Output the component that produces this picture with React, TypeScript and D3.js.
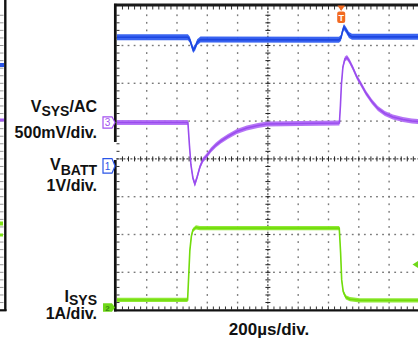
import React from 'react';
import * as d3 from 'd3';

// CH1 (VBATT, 1V/div) – time in µs, value in V
const blueT = [0, 472, 485, 498, 507, 520, 533, 555, 1469, 1482, 1494, 1502, 1515, 1535, 1555, 2000];
const blueV = [3.42, 3.42, 3.35, 3.19, 3.08, 3.15, 3.29, 3.36, 3.35, 3.40, 3.60, 3.69, 3.62, 3.48, 3.43, 3.43];

// CH3 (VSYS AC, 500mV/div) – time in µs, value in mV
const purpleT = [0, 472, 482, 492, 505, 518, 533, 551, 571, 595, 624, 657, 690, 736, 795, 861, 934, 993, 1211, 1472, 1479, 1485, 1495, 1508, 1522, 1538, 1561, 1587, 1614, 1647, 1686, 1726, 1772, 1825, 1891, 1950, 2000];
const purpleMV = [0, 0, -298, -562, -734, -814, -721, -589, -496, -443, -364, -298, -245, -185, -119, -73, -40, -20, -13, -7, 231, 496, 734, 840, 860, 813, 721, 602, 509, 390, 278, 185, 119, 73, 40, 20, 11];

// CH2 (ISYS, 1A/div) – time in µs, value in A
const greenT = [0, 470, 479, 485, 495, 505, 525, 551, 1471, 1480, 1487, 1497, 1515, 1541, 1607, 2000];
const greenA = [0.2, 0.2, 0.99, 1.52, 1.89, 2.05, 2.12, 2.1, 2.1, 1.44, 0.73, 0.42, 0.27, 0.22, 0.19, 0.19];

const timeLabel = '200µs/div.';
const vsysMain = ['V', 'SYS', '/AC'];
const vsysScale = '500mV/div.';
const vbattMain = ['V', 'BATT'];
const vbattScale = '1V/div.';
const isysMain = ['I', 'SYS'];
const isysScale = '1A/div.';

const FONT = '"Liberation Sans", Arial, Helvetica, sans-serif';

export default function App() {
  const W = 418, H = 341;
  const x0 = 116.4, divW = 30.3, yTop = 7.7, divH = 37.8;
  const x = d3.scaleLinear().domain([0, 2000]).range([x0, x0 + 10 * divW]);
  const y1 = d3.scaleLinear().domain([0, 1]).range([166.5, 166.5 - divH]);
  const y3 = d3.scaleLinear().domain([0, 500]).range([122.5, 122.5 - divH]);
  const y2 = d3.scaleLinear().domain([0, 1]).range([307.5, 307.5 - divH]);

  const blue = blueT.map((t, i) => [t, blueV[i]] as [number, number]);
  const purple = purpleT.map((t, i) => [t, purpleMV[i]] as [number, number]);
  const green = greenT.map((t, i) => [t, greenA[i]] as [number, number]);

  const band = (ys: d3.ScaleLinear<number, number>, h: number) =>
    d3.area<[number, number]>().x(d => x(d[0])).y0(d => ys(d[1]) - h).y1(d => ys(d[1]) + h);
  const line = (ys: d3.ScaleLinear<number, number>) =>
    d3.line<[number, number]>().x(d => x(d[0])).y(d => ys(d[1]));

  const dots: JSX.Element[] = [];
  for (let i = 1; i < 10; i++) {
    if (i === 5) continue;
    const gx = x0 + i * divW;
    for (let j = 1; j < 40; j++) {
      const gy = yTop + (j * divH) / 5;
      dots.push(<rect key={`v${i}-${j}`} x={gx - 0.7} y={gy - 0.9} width={1.4} height={1.8} fill="#7a7a7a" />);
    }
  }
  for (let k = 1; k < 8; k++) {
    if (k === 4) continue;
    const gy = yTop + k * divH;
    for (let j = 1; j < 50; j++) {
      const gx = x0 + (j * divW) / 5;
      dots.push(<rect key={`h${k}-${j}`} x={gx - 0.9} y={gy - 0.7} width={1.8} height={1.4} fill="#7a7a7a" />);
    }
  }
  const cx = x0 + 5 * divW, cy = yTop + 4 * divH;
  const ticks: JSX.Element[] = [];
  const panelTicks: JSX.Element[] = [];
  for (let j = 1; j < 50; j++) {
    const gx = x0 + (j * divW) / 5;
    ticks.push(<line key={`ch${j}`} x1={gx} x2={gx} y1={cy - 2.5} y2={cy + 2.5} stroke="#222" strokeWidth={1} />);
    ticks.push(<line key={`tt${j}`} x1={gx} x2={gx} y1={6} y2={9.5} stroke="#333" strokeWidth={1} />);
    ticks.push(<line key={`bt${j}`} x1={gx} x2={gx} y1={306.5} y2={309.5} stroke="#333" strokeWidth={1} />);
  }
  for (let j = 1; j < 40; j++) {
    const gy = yTop + (j * divH) / 5;
    ticks.push(<line key={`cv${j}`} x1={cx - 2.5} x2={cx + 2.5} y1={gy} y2={gy} stroke="#222" strokeWidth={1} />);
    ticks.push(<line key={`lt${j}`} x1={116.5} x2={119.5} y1={gy} y2={gy} stroke="#333" strokeWidth={1} />);
    panelTicks.push(<line key={`pl${j}`} x1={0} x2={3.5} y1={gy} y2={gy} stroke="#999" strokeWidth={1} />);
  }

  const labelStyle = { fontFamily: FONT, fontWeight: 700 as const, fill: '#111' };

  return (
    <svg width={W} height={H} style={{ position: 'absolute', left: 0, top: 0, background: '#fff' }}>
      <defs>
        <clipPath id="plot"><rect x={117} y={6} width={302} height={303} /></clipPath>
      </defs>
      <rect x={0} y={0} width={W} height={H} fill="#fff" />

      {/* left partial panel */}
      {panelTicks}
      <line x1={5.3} x2={5.3} y1={0} y2={311} stroke="#111" strokeWidth={2.4} />
      <line x1={0} x2={6.5} y1={310.3} y2={310.3} stroke="#111" strokeWidth={2.2} />
      <line x1={0} x2={4} y1={65} y2={65} stroke="#2a55e8" strokeWidth={4} />
      <line x1={0} x2={4} y1={120} y2={120} stroke="#a35cf0" strokeWidth={3} />
      <line x1={0} x2={3} y1={223.5} y2={223.5} stroke="#7de314" strokeWidth={4} />
      <line x1={0} x2={3} y1={235} y2={235} stroke="#7de314" strokeWidth={3} />

      {/* grid */}
      {dots}
      <line x1={x0} x2={W} y1={cy} y2={cy} stroke="#222" strokeWidth={1} strokeDasharray="2 1.5" />
      <line x1={cx} x2={cx} y1={yTop} y2={310} stroke="#222" strokeWidth={1} strokeDasharray="2 1.5" />
      {ticks}

      {/* frame */}
      <line x1={114} x2={W} y1={5} y2={5} stroke="#1a1a1a" strokeWidth={2.8} />
      <line x1={114} x2={W} y1={310.3} y2={310.3} stroke="#111" strokeWidth={2.2} />
      <line x1={115.3} x2={115.3} y1={3.8} y2={142} stroke="#111" strokeWidth={2.7} />
      <line x1={115.3} x2={115.3} y1={160} y2={311.4} stroke="#111" strokeWidth={2.7} />

      {/* traces */}
      <g clipPath="url(#plot)">
        <path d={band(y1, 3)(blue) || ''} fill="#2f5cf0" opacity={0.95} />
        <path d={line(y1)(blue) || ''} fill="none" stroke="#1d46e0" strokeWidth={1.6} />
        <path d={band(y3, 2.5)(purple) || ''} fill="#b16ef5" opacity={0.95} />
        <path d={line(y3)(purple) || ''} fill="none" stroke="#9a4cee" strokeWidth={1.6} />
        <path d={band(y2, 2.1)(green) || ''} fill="#8ae82a" opacity={0.95} />
        <path d={line(y2)(green) || ''} fill="none" stroke="#72dc0c" strokeWidth={1.6} />
      </g>

      {/* channel markers */}
      <path d="M103,116.8 H112 L115,122.5 L112,128.2 H103 Z" fill="#fff" stroke="#a350f0" strokeWidth={1.2} />
      <text x={107.5} y={126.4} textAnchor="middle" fontSize={10} fontFamily={FONT} fill="#a350f0">3</text>
      <path d="M103,158.6 H112 L115,166 L112,173.2 H103 Z" fill="#fff" stroke="#2a55e8" strokeWidth={1.2} />
      <text x={107.5} y={169.8} textAnchor="middle" fontSize={10} fontFamily={FONT} fill="#2a55e8">1</text>
      <path d="M103,303.3 H112 L115,307.5 L112,311.7 H103 Z" fill="#6fd81a" />
      <text x={107.5} y={311} textAnchor="middle" fontSize={8} fontFamily={FONT} fontWeight={700} fill="#3a8a10">2</text>

      {/* trigger markers */}
      <path d="M337.5,5.5 H345 L341.2,11 Z" fill="#f26a21" />
      <rect x={337.2} y={11.5} width={8} height={11.5} rx={2} fill="#f26a21" />
      <text x={341.2} y={21} textAnchor="middle" fontSize={9} fontFamily={FONT} fontWeight={700} fill="#fff">T</text>
      <path d="M412.5,264.5 L418,261 L418,268 Z" fill="#6fd81a" />

      {/* labels */}
      <text x={97} y={112} textAnchor="end" fontSize={16} {...labelStyle}>
        {vsysMain[0]}<tspan fontSize={14} dy={3.5}>{vsysMain[1]}</tspan><tspan dy={-3.5}>{vsysMain[2]}</tspan>
      </text>
      <text x={97} y={138} textAnchor="end" fontSize={16} {...labelStyle}>{vsysScale}</text>
      <text x={97} y={170} textAnchor="end" fontSize={16} {...labelStyle}>
        {vbattMain[0]}<tspan fontSize={14} dy={4.5}>{vbattMain[1]}</tspan>
      </text>
      <text x={97} y={190.5} textAnchor="end" fontSize={16} {...labelStyle}>{vbattScale}</text>
      <text x={97} y={301.5} textAnchor="end" fontSize={16} {...labelStyle}>
        {isysMain[0]}<tspan fontSize={14} dy={3}>{isysMain[1]}</tspan>
      </text>
      <text x={97} y={319} textAnchor="end" fontSize={16} {...labelStyle}>{isysScale}</text>
      <text x={269} y={334.5} textAnchor="middle" fontSize={17} {...labelStyle}>{timeLabel}</text>
    </svg>
  );
}
